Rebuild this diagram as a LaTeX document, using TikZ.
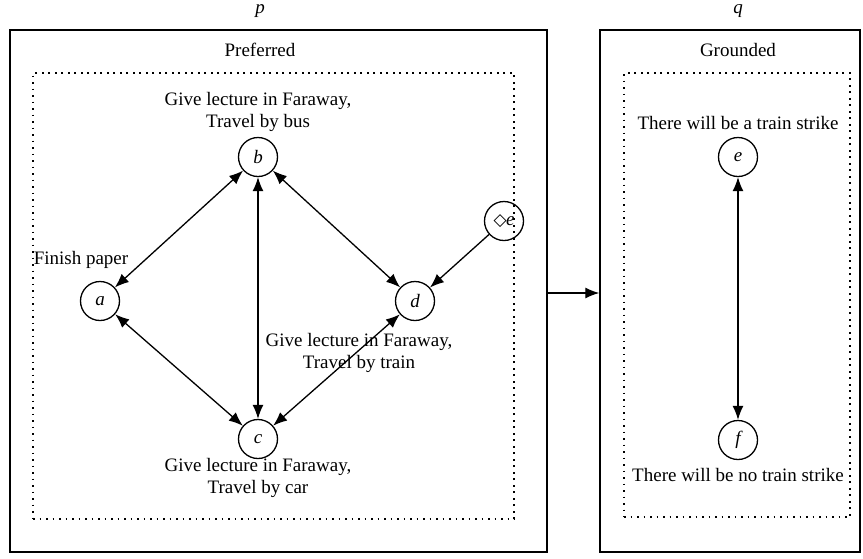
\documentclass[tikz,border=0pt]{standalone}
\usepackage{fontspec}
\setmainfont{Liberation Serif}
\newfontfamily\symfont{DejaVu Sans}
\usetikzlibrary{arrows.meta}
\begin{document}
\begin{tikzpicture}[x=1pt,y=-1pt,
  txt/.style={font=\fontsize{19}{21.5}\selectfont,align=center,inner sep=0pt},
  vert/.style={circle,draw,line width=1.3pt,minimum size=39pt,inner sep=0pt,font=\fontsize{19}{21.5}\selectfont\itshape},
  frame/.style={draw,line width=1.4pt,rectangle,inner sep=0pt},
  dotbox/.style={draw,line width=1.6pt,dash pattern=on 1.6pt off 4.9pt,rectangle,inner sep=0pt},
  tip/.tip={Latex[length=14pt,width=11pt]},
  both/.style={line width=1.3pt,tip-tip},
  one/.style={line width=1.3pt,-tip}
]
\useasboundingbox (0,0) rectangle (863,558);
% frames
\node[frame,minimum width=537pt,minimum height=522pt] (L) at (278.5,291) {};
\node[frame,minimum width=260pt,minimum height=522pt] (R) at (730,291) {};
\node[dotbox,minimum width=481pt,minimum height=446pt] (LD) at (273.5,296) {};
\node[dotbox,minimum width=226pt,minimum height=444pt] (RD) at (737,295) {};
% titles
\node[txt,font=\fontsize{19}{21.5}\selectfont\itshape] (p) at (260,11) {p};
\node[txt,font=\fontsize{19}{21.5}\selectfont\itshape] (q) at (738,11) {q};
\node[txt] (pref) at (260,50) {Preferred};
\node[txt] (grnd) at (738,50) {Grounded};
% vertices
\node[vert] (b) at (258,157) {b};
\node[vert] (a) at (100,301) {a};
\node[vert] (d) at (415,301) {d};
\node[vert] (de) at (504,221) {\raisebox{0.5pt}{\symfont\upshape\fontsize{17}{17}\selectfont ◇}\kern-0.5pt e};
\node[vert] (c) at (258,439) {c};
\node[vert] (e) at (738,157) {e};
\node[vert] (f) at (738,440) {f};
% labels
\node[txt] (lb) at (258,112) {Give lecture in Faraway,\\Travel by bus};
\node[txt] (la) at (81,260) {Finish paper};
\node[txt] (ld) at (359,353) {Give lecture in Faraway,\\Travel by train};
\node[txt] (lc) at (258,478) {Give lecture in Faraway,\\Travel by car};
\node[txt] (le) at (738,123) {There will be a train strike};
\node[txt] (lf) at (738,475) {There will be no train strike};
% edges
\draw[both] (a) -- (b);
\draw[both] (b) -- (c);
\draw[both] (b) -- (d);
\draw[both] (a) -- (c);
\draw[both] (c) -- (d);
\draw[one] (de) -- (d);
\draw[both] (e) -- (f);
\draw[one] ([yshift=-2pt]L.east) -- ([yshift=-2pt]R.west);
\end{tikzpicture}
\end{document}
